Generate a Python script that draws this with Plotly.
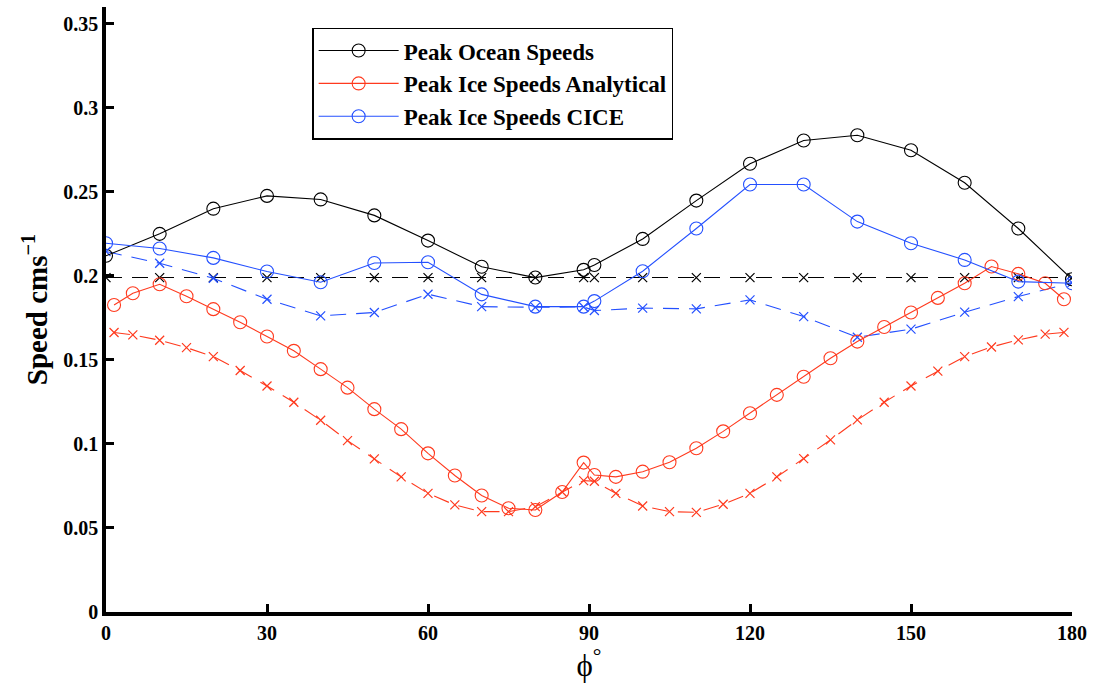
import plotly.graph_objects as go

# Ocean speeds (solid, circles)
ocean_x = [0, 10, 20, 30, 40, 50, 60, 70, 80, 89, 91, 100, 110, 120, 130, 140, 150, 160, 170, 180]
ocean_y = [0.212, 0.225, 0.240, 0.2476, 0.2455, 0.236, 0.221, 0.2054, 0.1990, 0.2036, 0.2065, 0.222,
           0.2448, 0.2667, 0.2806, 0.2837, 0.2748, 0.2554, 0.2282, 0.1980]
# Ocean reference (dashed, crosses)
ocean_ref_x = [0, 10, 20, 30, 40, 50, 60, 70, 80, 89, 91, 100, 110, 120, 130, 140, 150, 160, 170, 180]
ocean_ref_y = [0.199] * 20

# CICE ice speeds (solid, circles)
cice_x = [0, 10, 20, 30, 40, 50, 60, 70, 80, 89, 91, 100, 110, 120, 130, 140, 150, 160, 170, 180]
cice_y = [0.2194, 0.2163, 0.2107, 0.2026, 0.1962, 0.2077, 0.2081, 0.1890, 0.1817, 0.1817, 0.1850, 0.2028,
          0.2282, 0.2544, 0.2544, 0.2323, 0.2194, 0.2095, 0.1966, 0.1956]
# CICE ice speeds (dashed, crosses)
cice_d_x = [0, 10, 20, 30, 40, 50, 60, 70, 80, 89, 91, 100, 110, 120, 130, 140, 150, 160, 170, 180]
cice_d_y = [0.2145, 0.2075, 0.1986, 0.1861, 0.1762, 0.1782, 0.1891, 0.1817, 0.1813, 0.1815, 0.1794, 0.1808,
            0.1804, 0.1857, 0.1758, 0.1635, 0.1683, 0.1784, 0.1877, 0.1960]

# Analytical ice speeds (solid, circles)
ana_x = [1.5, 5, 10, 15, 20, 25, 30, 35, 40, 45, 50, 55, 60, 65, 70, 75, 80, 85, 89, 91, 95,
         100, 105, 110, 115, 120, 125, 130, 135, 140, 145, 150, 155, 160, 165, 170, 175, 178.5]
ana_y = [0.1827, 0.1897, 0.1950, 0.1879, 0.1802, 0.1724, 0.1639, 0.1554, 0.1445, 0.1335, 0.1207, 0.1088,
         0.0944, 0.0812, 0.0693, 0.0617, 0.0607, 0.0714, 0.0889, 0.0815, 0.0804, 0.0835, 0.0891, 0.0974,
         0.1075, 0.1183, 0.1292, 0.1400, 0.1510, 0.1609, 0.1696, 0.1782, 0.1869, 0.1956, 0.2056, 0.2012,
         0.1956, 0.1861]
# Analytical ice speeds (dashed, crosses)
ana_d_x = ana_x
ana_d_y = [0.1663, 0.1649, 0.1617, 0.1573, 0.1520, 0.1437, 0.1345, 0.1248, 0.1141, 0.1020, 0.0911, 0.0804,
           0.0706, 0.0637, 0.0597, 0.0597, 0.0627, 0.0714, 0.0782, 0.0778, 0.0706, 0.0631, 0.0597, 0.0593,
           0.0641, 0.0706, 0.0804, 0.0913, 0.1024, 0.1143, 0.1248, 0.1345, 0.1433, 0.1520, 0.1577, 0.1619,
           0.1653, 0.1664]

x_ticks = [0, 30, 60, 90, 120, 150, 180]
y_ticks = [0, 0.05, 0.1, 0.15, 0.2, 0.25, 0.3, 0.35]
y_tick_text = ["0", "0.05", "0.1", "0.15", "0.2", "0.25", "0.3", "0.35"]

BLACK = "#000000"
RED = "#ff3a1e"
BLUE = "#2450ff"

fig = go.Figure()

def solid(x, y, color, name):
    fig.add_trace(go.Scatter(x=x, y=y, mode="lines+markers", name=name,
                             line=dict(color=color, width=1.1),
                             marker=dict(symbol="circle-open", size=13, color=color,
                                         line=dict(width=1.1, color=color))))

def dashed(x, y, color):
    fig.add_trace(go.Scatter(x=x, y=y, mode="lines+markers", showlegend=False,
                             line=dict(color=color, width=1.1, dash="16px,10px"),
                             marker=dict(symbol="x-thin-open", size=9, color=color,
                                         line=dict(width=1.2, color=color))))

dashed(ocean_ref_x, ocean_ref_y, BLACK)
dashed(ana_d_x, ana_d_y, RED)
dashed(cice_d_x, cice_d_y, BLUE)
solid(ocean_x, ocean_y, BLACK, "Peak Ocean Speeds")
solid(ana_x, ana_y, RED, "Peak Ice Speeds Analytical")
solid(cice_x, cice_y, BLUE, "Peak Ice Speeds CICE")

font = "Liberation Serif, Times New Roman, serif"

fig.update_layout(
    width=1094, height=686,
    margin=dict(l=106, r=22, t=7, b=74),
    paper_bgcolor="white", plot_bgcolor="white",
    font=dict(family=font, color="black"),
    legend=dict(x=0.2134, y=0.966, xanchor="left", yanchor="top",
                bordercolor="black", borderwidth=1.5, bgcolor="white",
                font=dict(family=font, size=23, color="black", weight="bold"),
                tracegroupgap=0, itemwidth=80),
    xaxis=dict(range=[0, 180], tickvals=x_ticks, ticktext=[str(t) for t in x_ticks],
               showgrid=False, zeroline=False, showline=True, linecolor="black", linewidth=3.5,
               ticks="inside", ticklen=8, tickwidth=3, tickcolor="black",
               tickfont=dict(family=font, size=20, color="black", weight="bold"),
               title=dict(text="ϕ<sup>°</sup>", font=dict(family=font, size=31, color="black"),
                          standoff=6)),
    yaxis=dict(range=[0, 0.36], tickvals=y_ticks, ticktext=y_tick_text,
               showgrid=False, zeroline=False, showline=True, linecolor="black", linewidth=3.5,
               ticks="inside", ticklen=8, tickwidth=3, tickcolor="black",
               tickfont=dict(family=font, size=20, color="black", weight="bold"),
               title=dict(text="Speed cms<sup>−1</sup>",
                          font=dict(family=font, size=29, color="black", weight="bold"),
                          standoff=8)),
)

fig.write_html("out.html")
